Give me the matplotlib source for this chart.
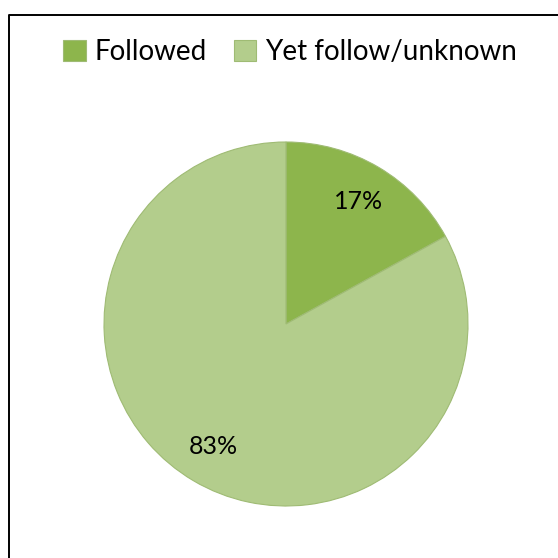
import matplotlib.pyplot as plt
from matplotlib.lines import Line2D

labels = ["Followed", "Yet follow/unknown"]
shares = [17, 83]
colors = ["#8db54c", "#b3cd8c"]

W = 558
fig = plt.figure(figsize=(W / 100, W / 100), dpi=100)
plt.rcParams["font.family"] = ["Lato", "DejaVu Sans"]

# chart border (only left and top edges fall inside the picture)
bx, by = 8.5 / W, 1 - 14.5 / W
fig.lines.append(Line2D([bx, bx, 1.0], [0.0, by, by], transform=fig.transFigure,
                        color="black", linewidth=1.4))

cx, cy, r = 286 / W, 1 - 324 / W, 182 / W
ax = fig.add_axes([cx - r, cy - r, 2 * r, 2 * r])
wedges, texts, autotexts = ax.pie(
    shares, colors=colors, startangle=90, counterclock=False,
    autopct="%d%%", pctdistance=0.78, radius=1,
    wedgeprops=dict(edgecolor="#9fbb74", linewidth=0.8),
    textprops=dict(fontsize=18, color="black"),
)
ax.set_xlim(-1, 1)
ax.set_ylim(-1, 1)
ax.set_aspect("equal")
ax.axis("off")

fig.legend(wedges, labels, loc="center", bbox_to_anchor=(290 / W, 1 - 52 / W), ncol=2,
           frameon=False, fontsize=20, handlelength=0.8, handleheight=0.8,
           handletextpad=0.3, columnspacing=1.0)

fig.savefig("out.png", dpi=100)
